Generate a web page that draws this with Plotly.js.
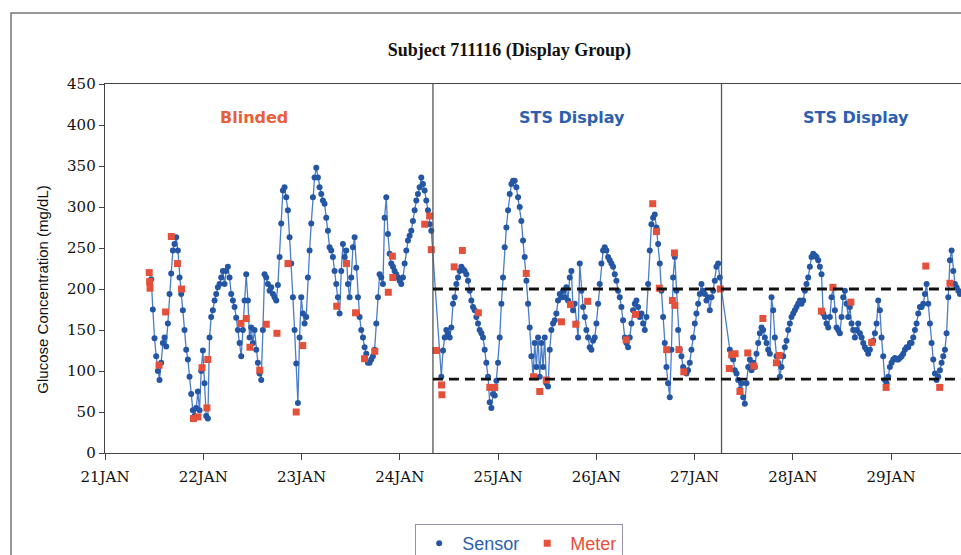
<!DOCTYPE html>
<html><head><meta charset="utf-8">
<script src="https://cdn.plot.ly/plotly-3.0.1.min.js"></script>
<style>html,body{margin:0;padding:0;background:#fff}</style>
</head><body><div id="chart" style="width:961px;height:555px"></div>
<script>
// ---- data ----
const baseDateUTC = Date.UTC(2007, 0, 21); // 21 JAN, hours are counted from here
const dayTickHours = [0, 24, 48, 72, 96, 120, 144, 168, 192, 216];
const dayLabels = ['21JAN','22JAN','23JAN','24JAN','25JAN','26JAN','27JAN','28JAN','29JAN','30JAN'];

// sensor readings: three recording segments, regular sampling step
const sensorStepHours = 0.4073;
const sensorStartHours = [11.28, 82.16, 152.63];
const sensorBlinded = [
212,175,140,118,100,89,110,134,141,130,158,194,219,247,255,263,247,214,194,174,
150,126,114,93,72,52,45,55,75,52,100,125,85,45,42,141,166,174,186,194,
202,206,214,222,206,222,227,214,194,186,178,165,150,134,118,150,186,218,186,141,
153,134,150,126,110,97,89,150,218,214,206,198,202,194,
190,186,205,239,280,320,324,312,296,263,231,190,150,109,61,141,190,170,158,166,
214,247,280,312,336,348,336,324,316,308,304,287,271,251,247,239,222,206,190,170,
222,255,239,247,206,190,214,251,263,226,190,166,150,141,129,121,110,110,114,118,
126,158,190,218,214,206,287,312,267,243,231,227,222,218,214,210,206,214,231,247,259,
265,271,283,296,308,316,324,336,328,320,308,296,279,271];
const sensorDisplay1 = [
93,125,141,150,146,141,153,182,190,206,214,222,227,224,222,218,210,198,186,178,
174,166,158,150,146,141,126,110,93,62,55,72,70,88,110,141,182,214,251,275,
296,316,328,332,332,324,312,300,283,259,239,210,182,153,118,93,134,105,141,93,134,105,
141,85,81,126,150,158,162,170,186,194,190,198,190,202,186,214,222,174,182,158,
141,231,198,178,166,150,141,129,126,137,141,158,182,206,231,247,251,247,239,235,
231,227,218,210,198,190,178,162,141,134,129,141,158,174,182,186,178,166,170,158,
150,166,206,247,279,287,291,275,255,231,198,166,134,105,85,68,126,214,239,198,150,
126,118,105,101,97,101,110,126,141,158,170,182,194,206,198,194,186,190,174,190,198,210,227,231,214];
const sensorDisplay2 = [
126,118,114,101,97,89,77,85,68,60,85,105,114,101,110,105,121,134,146,153,
150,141,134,126,121,190,174,141,118,110,93,105,118,129,137,150,158,166,170,174,
178,182,186,182,186,198,206,214,227,239,243,
241,239,235,227,218,170,166,158,153,166,190,202,174,153,150,146,166,190,198,182,
166,178,158,150,141,150,158,146,141,134,129,126,121,126,134,137,146,158,186,174,
141,118,89,85,93,105,110,114,116,114,114,116,118,121,126,129,129,134,134,141,
150,158,170,178,178,182,194,206,182,158,134,114,97,89,93,101,110,118,126,146,
190,235,247,222,206,202,198,194];

// meter (finger stick) readings
const meterHour = [10.8,10.9,11.0,13.2,14.8,16.2,17.7,18.7,21.6,22.7,23.7,24.9,25.1,33.2,34.5,35.4,37.8,39.4,42.0,44.7,
46.7,48.3,56.6,59.0,61.2,63.4,65.9,69.2,70.2,70.3,78.1,79.3,79.7,80.8,82.2,82.3,85.3,87.3,91.2,94.0,
95.2,102.9,104.7,106.2,107.8,111.5,113.7,115.0,117.9,127.3,129.6,133.8,134.7,135.4,137.2,138.6,139.1,139.2,140.2,141.4,
150.3,152.5,153.1,153.9,155.1,157.0,158.5,160.7,164.0,164.7,175.0,177.8,182.2,187.3,190.8,200.5,203.9,206.4];
const meterGlucose = [220,209,201,107,172,264,231,200,42,44,104,55,114,158,164,129,101,157,146,231,
50,131,179,231,171,115,124,196,240,214,279,289,248,125,83,71,227,247,171,80,
80,219,93,75,89,160,181,157,185,138,169,304,270,201,126,186,244,180,126,99,
200,103,120,121,75,122,106,164,110,119,173,202,184,135,80,228,80,207];

const periodBreakHours = [80.11, 150.60];
const targetRange = [90, 200];
const periodLabels = ['Blinded', 'STS Display', 'STS Display'];
const periodLabelHours = [36.3, 114.0, 183.4];
const periodLabelColors = ['#e8603a', '#2d5fae', '#2d5fae'];
const xEndHour = 209.1;

// ---- build ----
function toDate(h) {
  return new Date(baseDateUTC + h * 3600000).toISOString().slice(0, 19).replace('T', ' ');
}
const segs = [sensorBlinded, sensorDisplay1, sensorDisplay2];
let sx = [], sy = [];
segs.forEach((vals, s) => {
  vals.forEach((v, i) => { sx.push(toDate(sensorStartHours[s] + i * sensorStepHours)); sy.push(v); });
});
const mx = meterHour.map(toDate);

const sensorBlue = '#2456a4';
const meterRed = '#e4503a';

const traces = [
  {x: sx, y: sy, type: 'scatter', mode: 'lines', line: {color: '#4a7cc8', width: 1.3},
   showlegend: false, hoverinfo: 'skip'},
  {x: sx, y: sy, type: 'scatter', mode: 'markers', name: '<span style="color:#2d5fae">Sensor</span>',
   marker: {color: sensorBlue, size: 6, symbol: 'circle'}},
  {x: mx, y: meterGlucose, type: 'scatter', mode: 'markers', name: '<span style="color:#e4503a">Meter</span>',
   marker: {color: meterRed, size: 7, symbol: 'square'}}
];

const shapes = [];
periodBreakHours.forEach(h => shapes.push({type: 'line', xref: 'x', yref: 'paper', x0: toDate(h), x1: toDate(h), y0: 0, y1: 1,
  line: {color: '#555', width: 1.3}}));
targetRange.forEach(v => shapes.push({type: 'line', xref: 'x', yref: 'y', x0: toDate(periodBreakHours[0]), x1: toDate(xEndHour + 10), y0: v, y1: v,
  line: {color: '#111', width: 2.8, dash: '10px,6px'}}));
shapes.push({type: 'rect', xref: 'paper', yref: 'paper', x0: -0.1098, x1: 1.05, y0: -0.45, y1: 1.1924,
  line: {color: '#777', width: 1.5}, fillcolor: 'rgba(0,0,0,0)'});

const annotations = periodLabels.map((t, i) => ({
  text: '<b>' + t + '</b>', xref: 'x', yref: 'paper', x: toDate(periodLabelHours[i]), y: 0.91, yanchor: 'middle',
  showarrow: false, font: {family: 'DejaVu Sans', size: 16, color: periodLabelColors[i]}
}));
annotations.push({text: 'Glucose Concentration (mg/dL)', xref: 'paper', yref: 'paper', x: -0.0853, y: 0.444,
  textangle: -90, showarrow: false, font: {family: 'Liberation Sans', size: 15, color: '#111'}});

const layout = {
  width: 961, height: 555,
  margin: {l: 105, r: 0, t: 84, b: 102, autoexpand: false},
  paper_bgcolor: '#fff', plot_bgcolor: '#fff',
  title: {text: '<b>Subject 711116 (Display Group)</b>', x: 0.53, xanchor: 'center', y: 0.91, yanchor: 'middle',
    yref: 'container', font: {family: 'Liberation Serif', size: 18, color: '#111'}},
  xaxis: {type: 'date', range: [toDate(0), toDate(xEndHour)], tickvals: dayTickHours.map(toDate), ticktext: dayLabels,
    showgrid: false, zeroline: false, showline: true, linecolor: '#444', linewidth: 1.3, mirror: true,
    ticks: 'outside', ticklen: 6, tickcolor: '#444', ticklabelstandoff: 4, automargin: false,
    tickfont: {family: 'DejaVu Serif', size: 15, color: '#111'}},
  yaxis: {range: [0, 450], tickvals: [0,50,100,150,200,250,300,350,400,450], showgrid: false, zeroline: false,
    showline: true, linecolor: '#444', linewidth: 1.3, ticks: 'outside', ticklen: 5, tickcolor: '#444', automargin: false,
    tickfont: {family: 'DejaVu Serif', size: 15, color: '#111'}},
  showlegend: true,
  legend: {orientation: 'h', x: 0.4836, xanchor: 'center', yref: 'container', y: 0.056, yanchor: 'top',
    bordercolor: '#9a8fa8', borderwidth: 1.2, bgcolor: '#fff', itemwidth: 36,
    font: {family: 'Liberation Sans', size: 18}},
  shapes: shapes, annotations: annotations
};
Plotly.newPlot('chart', traces, layout, {displayModeBar: false, staticPlot: true});
</script></body></html>
